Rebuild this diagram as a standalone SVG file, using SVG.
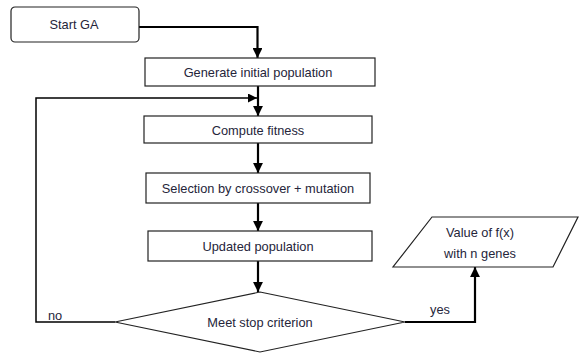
<svg xmlns="http://www.w3.org/2000/svg" width="580" height="353" viewBox="0 0 580 353">
<style>
.box{fill:#fff;stroke:#222;stroke-width:1.2}
.t{font-family:"Liberation Sans",Arial,sans-serif;font-size:12.8px;fill:#25253a;text-anchor:middle;dominant-baseline:central}
.c{fill:none;stroke:#000;stroke-width:2.2}
.cl{fill:none;stroke:#000;stroke-width:1.5}
</style>
<defs>
<marker id="ah" viewBox="0 0 10 10" refX="10" refY="5" markerWidth="4.5" markerHeight="4.5" orient="auto" markerUnits="strokeWidth">
<path d="M0,0 L10,5 L0,10 z" fill="#000"/>
</marker>
<marker id="ahs" viewBox="0 0 10 10" refX="10" refY="5" markerWidth="6" markerHeight="6" orient="auto" markerUnits="strokeWidth">
<path d="M0,0 L10,5 L0,10 z" fill="#000"/>
</marker>
</defs>
<rect width="580" height="353" fill="#fff"/>
<g id="connectors">
<path class="c" d="M139,27 H257.5 V58" marker-end="url(#ah)"/>
<path class="c" d="M258,86 V116" marker-end="url(#ah)"/>
<path class="cl" d="M115,322 H36 V98 H257" marker-end="url(#ahs)"/>
<path class="c" d="M258,143 V173" marker-end="url(#ah)"/>
<path class="c" d="M258,203 V231" marker-end="url(#ah)"/>
<path class="c" d="M258,261 V292" marker-end="url(#ah)"/>
<path class="c" d="M405,322 H475 V267" marker-end="url(#ah)"/>
<text class="t" x="55" y="315">no</text>
<text class="t" x="440" y="309">yes</text>
</g>
<g id="start">
<rect class="box" x="11" y="7" width="128" height="35" rx="4"/>
<text class="t" x="74" y="24">Start GA</text>
</g>
<g id="generate">
<rect class="box" x="145" y="58" width="230" height="28"/>
<text class="t" x="258" y="72">Generate initial population</text>
</g>
<g id="compute">
<rect class="box" x="144" y="116" width="228" height="27"/>
<text class="t" x="258" y="130">Compute fitness</text>
</g>
<g id="selection">
<rect class="box" x="146" y="173" width="224" height="30"/>
<text class="t" x="258" y="188">Selection by crossover + mutation</text>
</g>
<g id="updated">
<rect class="box" x="148" y="231" width="224" height="30"/>
<text class="t" x="258" y="246">Updated population</text>
</g>
<g id="decision">
<polygon class="box" points="260,292 405,322 260,352 115,322"/>
<text class="t" x="260" y="322">Meet stop criterion</text>
</g>
<g id="output">
<polygon class="box" points="432,217 578,217 553,267 393,267"/>
<text class="t" x="480" y="232">Value of f(x)</text>
<text class="t" x="480" y="253">with n genes</text>
</g>
</svg>
